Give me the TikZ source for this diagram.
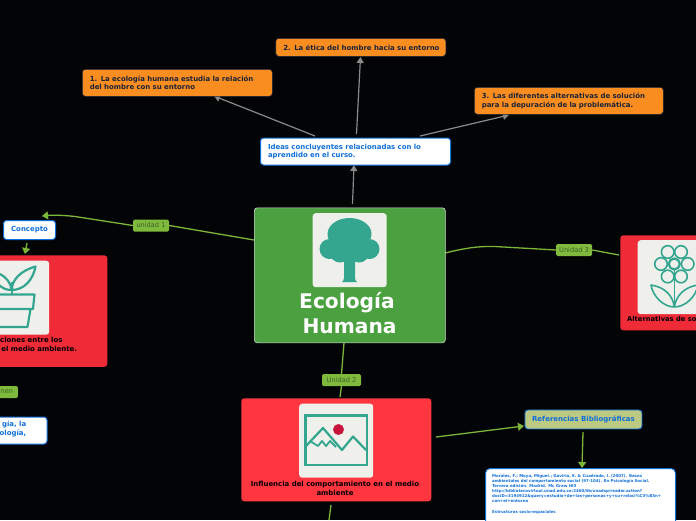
\documentclass[tikz,border=0pt]{standalone}
\usepackage{fontspec}
\setmainfont{DejaVu Sans}
\usetikzlibrary{arrows.meta}
\definecolor{bgk}{HTML}{020406}
\definecolor{lnk}{HTML}{7CB53A}
\definecolor{tagc}{HTML}{7FBA3C}
\definecolor{tagt}{HTML}{38602A}
\definecolor{grn}{HTML}{4BA03F}
\definecolor{redA}{HTML}{EE2B36}
\definecolor{redB}{HTML}{FF3640}
\definecolor{org}{HTML}{F98D1F}
\definecolor{blu}{HTML}{0F6FD8}
\definecolor{navy}{HTML}{1A2238}
\definecolor{gry}{HTML}{8A8A8A}
\definecolor{tile}{HTML}{EFF0EC}
\definecolor{teal}{HTML}{34A58F}
\definecolor{oliv}{HTML}{BBC983}
\definecolor{sun}{HTML}{C8143C}
\tikzset{
 x=1pt,y=-1pt,
 box/.style={rounded corners=3pt,anchor=north west,inner sep=0pt,line width=.6pt},
 orgbox/.style={box,fill=org,draw=navy,text=navy,font=\bfseries\fontsize{6.95}{8.5}\selectfont,align=left,inner xsep=7.5pt},
 whitebox/.style={box,fill=white,draw=blu,line width=1pt,text=blu,font=\bfseries\fontsize{6.95}{8.5}\selectfont,align=left,inner xsep=7.5pt},
 redbox/.style={box,draw=none},
 tagbox/.style={rounded corners=1.5pt,fill=tagc,text=tagt,font=\fontsize{6.6}{8}\selectfont,inner sep=0pt,minimum height=12pt},
 grylink/.style={draw=gry,line width=1.2pt,-{Triangle[length=6pt,width=7pt]}},
 grnlink/.style={draw=lnk,line width=1.3pt},
 grnarrow/.style={grnlink,-{Triangle[length=6pt,width=8pt]}},
 tilebox/.style={fill=tile,rounded corners=3pt,draw=none},
 icon/.style={draw=teal,line width=2.2pt,fill=none,line join=round},
 redtext/.style={text=black,font=\bfseries\fontsize{6.95}{9.3}\selectfont,align=center,inner sep=0pt},
}
\begin{document}
\begin{tikzpicture}
\useasboundingbox (0,0) rectangle (696,520);
\clip (0,0) rectangle (696,520);
\fill[bgk] (0,0) rectangle (696,520);

% coordinates at connector ends
\coordinate (c1s) at (254,240);
\coordinate (c1e) at (42,216);
\coordinate (c3s) at (445,253);
\coordinate (c3e) at (619,255);
\coordinate (c2s) at (344,343);
\coordinate (c2e) at (340,397);
\coordinate (p1) at (27,243);
\coordinate (p2) at (25,254);
\coordinate (i0a) at (352.5,204);
\coordinate (i0b) at (354,165);
\coordinate (ia1) at (315,136);
\coordinate (ib1) at (214,96);
\coordinate (ia2) at (356.5,134);
\coordinate (ib2) at (360.5,57);
\coordinate (ia3) at (420,136);
\coordinate (ib3) at (509,115);
\coordinate (r1) at (436,437);
\coordinate (r2) at (524,426);
\coordinate (r3) at (583,432);
\coordinate (r4) at (582,468);
\coordinate (d1) at (331,505);
\coordinate (d2) at (329,520);

% tags
\node[tagbox,minimum width=36pt] (t1) at (151,225.5) {unidad 1};
\node[tagbox,minimum width=36pt] (t3) at (574,250) {Unidad 3};
\node[tagbox,minimum width=39pt] (t2) at (341.5,380) {Unidad 2};
\node[tagbox,minimum width=22pt,anchor=east] (t4) at (18,392) {nen};

% green connectors
\draw[grnlink] (c1s) -- (t1.east);
\draw[grnarrow] (t1.west) -- (75,216.5) .. controls (62,215) and (52,215) .. (c1e);
\draw[grnlink] (c3s) .. controls (462,249) and (475,246) .. (495,246.5) -- (t3.west);
\draw[grnlink] (t3.east) -- (c3e);
\draw[grnlink] (c2s) -- (t2.north);
\draw[grnlink] (t2.south) -- (c2e);
\draw[grnarrow] (p1) -- (p2);
\draw[grnarrow] (r1) -- (r2);
\draw[grnarrow] (r3) -- (r4);
\draw[grnlink] (d1) -- (d2);

% grey connectors
\draw[grylink] (i0a) -- (i0b);
\draw[grylink] (ia1) -- (ib1);
\draw[grylink] (ia2) -- (ib2);
\draw[grylink] (ia3) -- (ib3);

% central node
\node[box,fill=grn,draw=white!85!black,minimum width=191pt,minimum height=135pt] (root) at (254,207.5) {};
\node[tilebox,minimum width=74pt,minimum height=74pt,anchor=north west,inner sep=0pt] (roottile) at (312.5,213) {};
\fill[teal] (349.5,234) ellipse[x radius=22pt,y radius=16pt];
\fill[teal] (349.5,246) circle[radius=15pt];
\foreach \a/\b/\r in {329.5/249/10,369.5/249/10,340/252/10.5,359/252/10.5}
  \fill[teal] (\a,\b) circle[radius=\r pt];
\fill[teal] (344,255) -- (355,255) -- (355,278) .. controls (355,280) and (356,281) .. (357,282) -- (342,282) .. controls (343,281) and (344,280) .. (344,278) -- cycle;
\node[text=white,font=\bfseries\fontsize{20.2}{24.6}\selectfont,align=left,inner sep=0pt,anchor=north west] (roottext) at (299,292.5) {Ecología\\ \,Humana};

% ideas
\node[whitebox,minimum height=27pt,text width=175pt] (ideas) at (260,137.5) {Ideas concluyentes relacionadas con lo\\aprendido en el curso.};
\node[orgbox,minimum height=27pt,text width=175pt] (o1) at (82,69) {1. La ecología humana estudia la relación\\del hombre con su entorno};
\node[orgbox,minimum height=18pt,text width=155pt] (o2) at (275.5,38) {\mbox{2. La ética del hombre hacia su entorno}};
\node[orgbox,minimum height=27pt,text width=174pt] (o3) at (474,87) {3. Las diferentes alternativas de solución\\para la depuración de la problemática.};

% concept
\node[whitebox,inner xsep=0pt,minimum width=52pt,minimum height=19pt,align=center] (concepto) at (3,220) {Concepto};

% left red
\node[redbox,fill=redA,minimum width=117pt,minimum height=111.5pt] (leftred) at (-10,255) {};
\node[tilebox,minimum width=74pt,minimum height=74pt,anchor=north west,inner sep=0pt] (lefttile) at (-25,260.5) {};
\draw[icon] (-4,282) .. controls (2,289) and (7,290) .. (11.7,290);
\draw[icon] (11.7,294) -- (11.7,282);
\draw[icon] (11.7,290) .. controls (12,280) and (20,271) .. (35.5,266.5) .. controls (33,280) and (24,290) .. (11.7,290);
\draw[icon] (0,274) .. controls (6,277) and (11,283) .. (11.7,290);
\draw[icon] (-2,294.5) -- (34.5,294.5) -- (33,309) -- (-2,309);
\draw[icon] (30.5,309) -- (27.5,327) -- (-2,327);
\node[redtext,anchor=north west,align=left] (lefttext) at (0,337) {ciones entre los\\\,el medio ambiente.};

% left white bottom
\node[whitebox,inner xsep=0pt,minimum width=58pt,minimum height=27pt,anchor=north east] (leftwhite) at (47.5,416.5) {};
\node[text=blu,font=\bfseries\fontsize{6.95}{8.8}\selectfont,align=right,anchor=north east,inner sep=0pt] (leftwhitetext) at (26.5,421) {gía, la\\ología,};

% bottom red
\node[redbox,fill=redB,minimum width=190pt,minimum height=103pt] (midred) at (241,398) {};
\node[tilebox,minimum width=74pt,minimum height=74pt,anchor=north west,inner sep=0pt] (midtile) at (299,403.5) {};
\draw[teal,line width=2.7pt] (305.5,415.5) rectangle (367,465);
\draw[icon] (306,446) -- (323,428) -- (342,450) -- (353,436.5) -- (366,450);
\draw[icon,line width=1.8pt] (310,441) -- (318,446) -- (322,441) -- (326,446) -- (330,441) -- (336,447);
\fill[sun] (338.5,429.5) circle[radius=5.5pt];
\node[redtext] (midtext) at (335,488.5) {Influencia del comportamiento en el medio\\ambiente};

% right red
\node[redbox,fill=redA,minimum width=90pt,minimum height=95pt] (rightred) at (620,235) {};
\node[tilebox,minimum width=74pt,minimum height=74pt,anchor=north west,inner sep=0pt] (righttile) at (637.5,240) {};
\foreach \a/\b in {667.7/252,681/252,661/264,687.7/264,667.7/276.5,681/276.5}
  \draw[icon,line width=1.6pt] (\a,\b) circle[radius=6.3pt];
\draw[icon,line width=2.2pt] (674.3,264) circle[radius=5.5pt];
\draw[icon,line width=1.6pt] (674.3,270) -- (674.3,307);
\draw[icon,line width=1.6pt] (674.3,307) .. controls (664,307) and (653,297) .. (651,285) .. controls (665,287) and (673,296) .. (674.3,307);
\draw[icon,line width=1.6pt] (674.3,307) .. controls (685,307) and (696,297) .. (698,285) .. controls (684,287) and (676,296) .. (674.3,307);
\node[redtext,anchor=north west,font=\bfseries\fontsize{6.75}{9.3}\selectfont] (righttext) at (627,316) {Alternativas de so};

% references
\node[box,fill=oliv,draw=blu,line width=.9pt,text=blu,font=\bfseries\fontsize{7}{9}\selectfont,minimum width=117pt,minimum height=19pt,align=center] (refs) at (524.5,409.5) {Referencias Bibliográficas};
\node[whitebox,rounded corners=4.5pt,minimum width=190pt,minimum height=70pt] (refbox) at (485,468) {};
\node[text=blu,font=\bfseries\fontsize{3.95}{5.05}\selectfont,align=left,anchor=north west,inner sep=0pt] (reftext) at (492,474.5) {Morales, F.; Moya, Miguel.; Gaviria, E. \& Cuadrado, I. (2007). Bases\\ambientales del comportamiento social (97-104). En Psicología Social.\\Tercera edición. Madrid. Mc Graw Hill\\http://bibliotecavirtual.unad.edu.co:2460/lib/unadsp/reader.action?\\docID=3194912\&query=estudio+de+las+personas+y+su+relaci\%C3\%B3n+\\con+el+entorno\\[5pt]Estructuras socio-espaciales};
\end{tikzpicture}
\end{document}
